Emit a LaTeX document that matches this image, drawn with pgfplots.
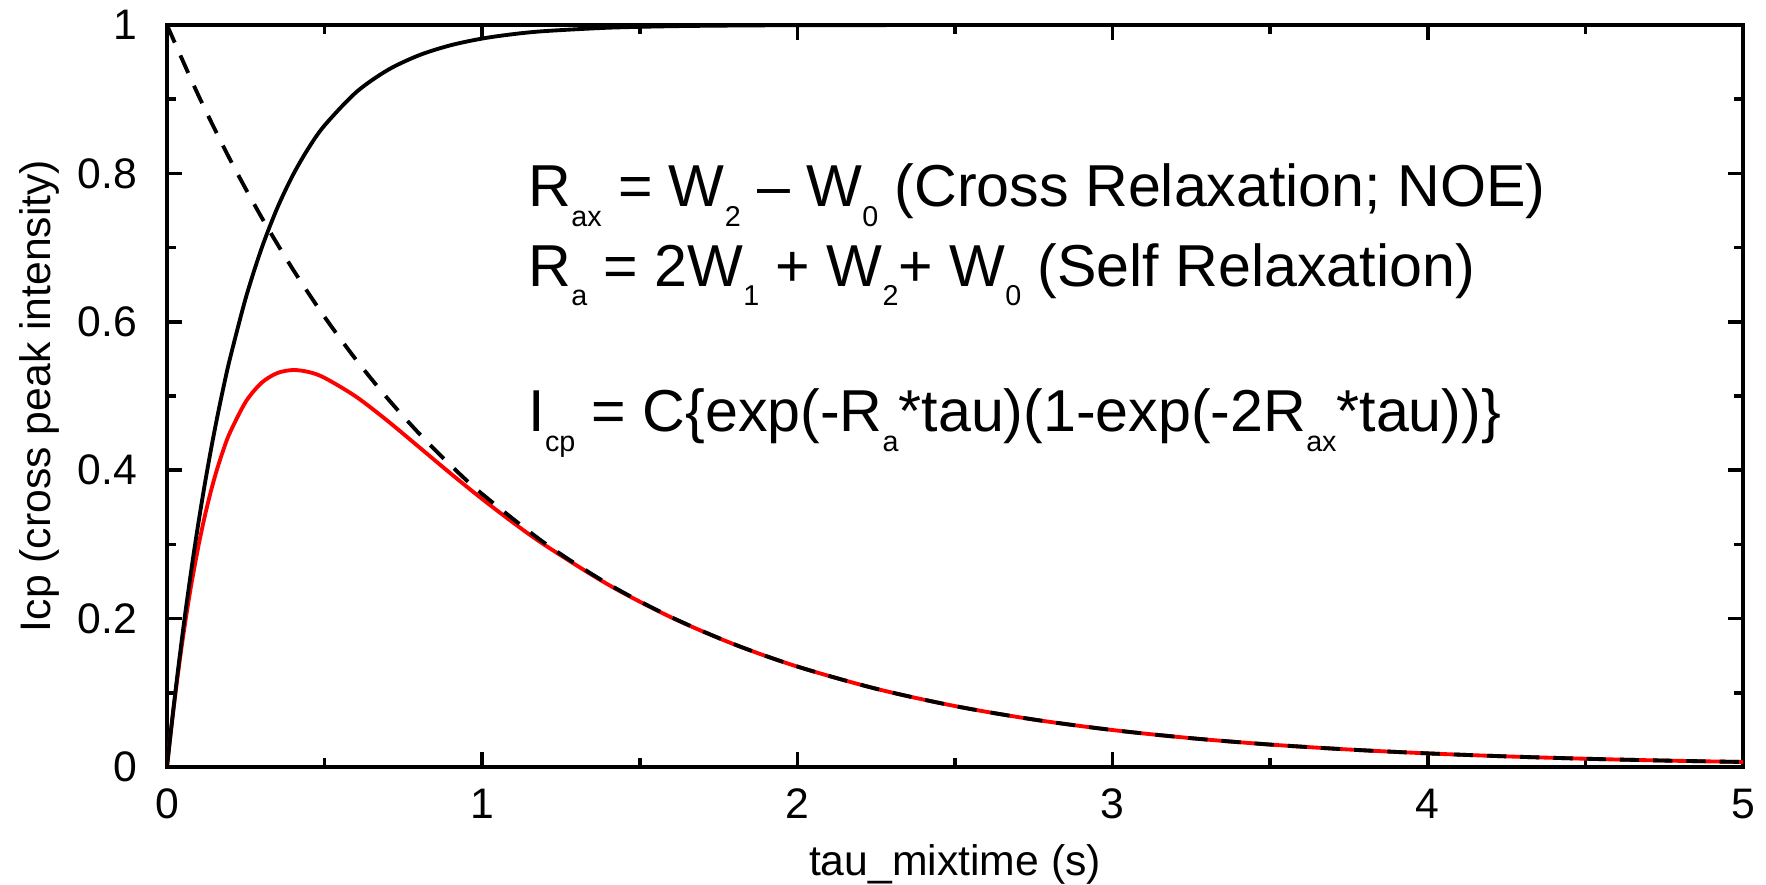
\documentclass[border=0pt]{standalone}
\usepackage{pgfplots}
\pgfplotsset{compat=1.18}
\usepackage{fontspec}
\setmainfont{Liberation Sans}
\newcommand{\sub}[1]{\raisebox{-5.6pt}{\fontsize{8.2}{8.2}\selectfont #1}}
\begin{document}
\begin{tikzpicture}
\begin{axis}[
  name=ax,
  scale only axis,
  width=450.29pt, height=212pt,
  xmin=0, xmax=5, ymin=0, ymax=1,
  xtick={0,1,2,3,4,5},
  ytick={0,0.2,0.4,0.6,0.8,1},
  minor xtick={0.5,1.5,2.5,3.5,4.5},
  minor ytick={0.1,0.3,0.5,0.7,0.9},
  tick align=inside,
  major tick length=4.3pt,
  minor tick length=2.6pt,
  every tick/.style={black, line width=1pt},
  axis line style={black, line width=1.05pt},
  /pgf/number format/assume math mode=true,
  yticklabel={\pgfmathprintnumber[fixed,precision=1]{\tick}},
  tick label style={font=\fontsize{12.2}{14}\selectfont},
  xticklabel style={anchor=base, yshift=-14.6pt},
  yticklabel style={anchor=east, inner sep=0pt, xshift=-8.4pt},
  xlabel={tau\_mixtime (s)},
  ylabel={Icp (cross peak intensity)},
  label style={font=\fontsize{12.2}{14}\selectfont},
  xlabel style={at={(rel axis cs:0.5,0)}, anchor=base, yshift=-30.9pt},
  ylabel style={at={(rel axis cs:-0.0808,0.5)}, anchor=center, rotate=0},
  clip=true,
]
% red: exp(-tau)(1-exp(-2Rax tau))
\addplot[red, line width=1.1pt, smooth] coordinates {
(0,0) (0.01,0.03882) (0.02,0.07536) (0.03,0.10974) (0.04,0.14206) (0.05,0.17243)
(0.06,0.20094) (0.07,0.22771) (0.08,0.25280) (0.1,0.29831) (0.12,0.33811)
(0.14,0.37277) (0.16,0.40282) (0.18,0.42870) (0.2,0.45085) (0.25,0.49229)
(0.3,0.51769) (0.35,0.53091) (0.4,0.53498) (0.45,0.53223) (0.5,0.52444)
(0.6,0.49902) (0.7,0.46639) (0.8,0.43102) (0.9,0.39546) (1.0,0.36114)
(1.1,0.32878) (1.2,0.29871) (1.4,0.24569) (1.6,0.20156) (1.8,0.16518)
(2.0,0.13529) (2.25,0.10539) (2.5,0.08208) (2.75,0.06393) (3.0,0.04979)
(3.25,0.03877) (3.5,0.03020) (3.75,0.02352) (4.0,0.01832) (4.25,0.01426)
(4.5,0.01111) (4.75,0.00865) (5.0,0.00674)
};
% black solid: 1-exp(-2Rax tau)
\addplot[black, line width=1.1pt, smooth] coordinates {
(0,0) (0.01,0.03921) (0.02,0.07688) (0.03,0.11308) (0.04,0.14786) (0.05,0.18127)
(0.06,0.21337) (0.08,0.27385) (0.1,0.32968) (0.12,0.38122) (0.14,0.42879)
(0.16,0.47271) (0.18,0.51325) (0.2,0.55067) (0.25,0.63212) (0.3,0.69881)
(0.35,0.75340) (0.4,0.79810) (0.45,0.83470) (0.5,0.86466) (0.6,0.90928)
(0.7,0.93919) (0.8,0.95924) (0.9,0.97268) (1.0,0.98168) (1.1,0.98772)
(1.2,0.99177) (1.4,0.99630) (1.6,0.99834) (1.8,0.99925) (2.0,0.99966)
(2.5,0.99995) (3.0,0.99999) (4.0,1.0) (5.0,1.0)
};
% black dashed: exp(-Ra tau)
\addplot[black, line width=1.1pt, dash pattern=on 5.5pt off 4pt, smooth] coordinates {
(0,1) (0.1,0.90484) (0.2,0.81873) (0.3,0.74082) (0.4,0.67032) (0.5,0.60653)
(0.6,0.54881) (0.7,0.49659) (0.8,0.44933) (0.9,0.40657) (1.0,0.36788)
(1.2,0.30119) (1.4,0.24660) (1.6,0.20190) (1.8,0.16530) (2.0,0.13534)
(2.25,0.10540) (2.5,0.08208) (2.75,0.06393) (3.0,0.04979) (3.25,0.03877)
(3.5,0.03020) (3.75,0.02352) (4.0,0.01832) (4.25,0.01426) (4.5,0.01111)
(4.75,0.00865) (5.0,0.00674)
};
\node[anchor=base west, inner sep=0pt, font=\fontsize{16.9}{20}\selectfont] at (axis cs:1.145,0.755)
  {R\sub{ax} = W\sub{2} – W\sub{0} (Cross Relaxation; NOE)};
\node[anchor=base west, inner sep=0pt, font=\fontsize{16.9}{20}\selectfont] at (axis cs:1.145,0.648)
  {R\sub{a} = 2W\sub{1} + W\sub{2}+ W\sub{0} (Self Relaxation)};
\node[anchor=base west, inner sep=0pt, font=\fontsize{16.9}{20}\selectfont] at (axis cs:1.145,0.452)
  {I\sub{cp} = C\{exp(-R\sub{a}*tau)(1-exp(-2R\sub{ax}*tau))\}};
\end{axis}
\pgfresetboundingbox
\path ([shift={(-47.71pt,-33.71pt)}]ax.south west) rectangle ([shift={(6.57pt,7.14pt)}]ax.north east);
\end{tikzpicture}
\end{document}
